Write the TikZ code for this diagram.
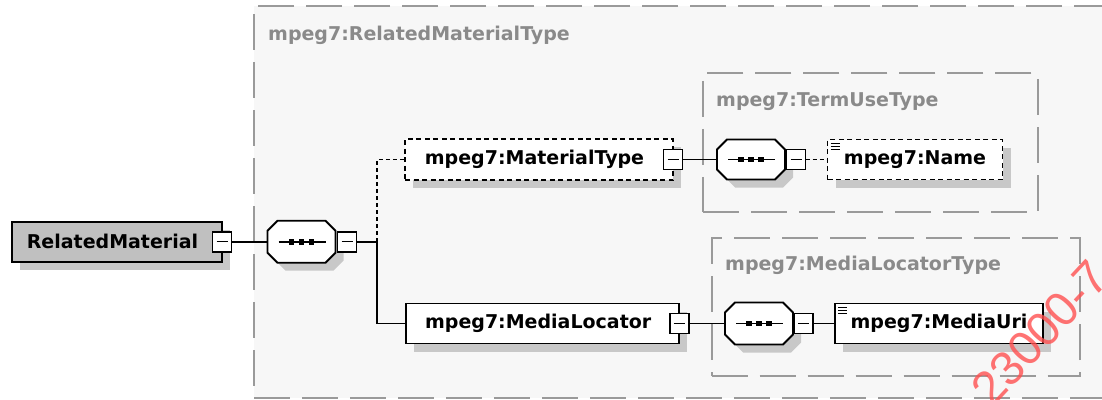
\documentclass[tikz,border=0pt]{standalone}
\usepackage{fontspec}
\setmainfont{DejaVu Sans}
\newfontfamily\wmfont{Liberation Sans}
\usetikzlibrary{shadows}
\definecolor{bgray}{HTML}{F7F7F7}
\definecolor{dgray}{HTML}{9A9A9A}
\definecolor{tgray}{HTML}{8A8A8A}
\definecolor{shgray}{HTML}{C8C8C8}
\definecolor{elgray}{HTML}{C0C0C0}
\definecolor{wmred}{HTML}{FF5050}
\newcommand\octpath[2]{\path[#2] ([xshift=10pt]#1.north west) -- ([xshift=-10pt]#1.north east) -- ([yshift=-10pt]#1.north east) -- ([yshift=10pt]#1.south east) -- ([xshift=-10pt]#1.south east) -- ([xshift=10pt]#1.south west) -- ([yshift=10pt]#1.south west) -- ([yshift=-10pt]#1.north west) -- cycle;}
\newcommand\seqshape[1]{%
  \octpath{#1}{fill=shgray, transform canvas={shift={(8pt,-8pt)}}}%
  \octpath{#1}{draw=black, line width=1.9pt, fill=white}%
  \draw[line width=1.6pt] ([xshift=-23pt]#1.center) -- ([xshift=24pt]#1.center);%
  \foreach \d in {-10,0,10} {\fill ([xshift=\d pt]#1.center) +(-2.8,-2.8) rectangle +(2.8,2.8);}%
}
\newcommand\texticon[1]{\foreach \k in {0,1,2} {\draw[line width=1pt] ([xshift=3pt,yshift={-(3.5+3*\k)*1pt}]#1.north west) -- ++(9,0);}}
\begin{document}
\begin{tikzpicture}[x=1pt,y=-1pt,
  lbl/.style={font=\fontsize{19}{19}\selectfont\bfseries},
  elembox/.style={draw=black, line width=1.9pt, fill=white, inner sep=0, outer sep=0, lbl,
    drop shadow={shadow xshift=8pt, shadow yshift=-8pt, fill=shgray, opacity=1}},
  optional/.style={dash pattern=on 5pt off 3.5pt},
  minusbox/.style={draw=black, line width=1.7pt, fill=white, minimum width=19pt, minimum height=20pt,
    inner sep=0, outer sep=0,
    path picture={\draw[line width=1.3pt] ([xshift=4pt]path picture bounding box.west) -- ([xshift=-4pt]path picture bounding box.east);}},
  grpbox/.style={draw=dgray, line width=1.8pt, dash pattern=on 36pt off 12pt, inner sep=0, outer sep=0, anchor=north west},
  grptitle/.style={lbl, text=tgray, anchor=west, inner sep=0},
  wire/.style={line width=1.6pt},
  optwire/.style={wire, dash pattern=on 4pt off 3pt},
  seqnode/.style={minimum width=68pt, minimum height=42pt, inner sep=0, outer sep=0}]
\useasboundingbox (0,0) rectangle (1102,399);
\fill[white] (0,0) rectangle (1102,399);
% group boxes
\node[grpbox, fill=bgray, minimum width=856pt, minimum height=392pt] (outer) at (254,6) {};
\node[grptitle] (t0) at (268,35) {mpeg7:RelatedMaterialType};
\node[grpbox, minimum width=335pt, minimum height=138.4pt] (g1) at (703,73.3) {};
\node[grptitle] (t1) at (716,101.7) {mpeg7:TermUseType};
\node[grpbox, minimum width=368.3pt, minimum height=137.4pt] (g2) at (711.7,238.3) {};
\node[grptitle] (t2) at (725,265) {mpeg7:MediaLocatorType};
% connectors
\coordinate (j) at (377,241.7);
\node[seqnode] (s1) at (301.5,241.7) {};
\node[seqnode, minimum height=40pt] (s2) at (751,159.5) {};
\node[seqnode] (s3) at (759,323.5) {};
% elements
\node[elembox, fill=elgray, minimum width=210pt, minimum height=40pt] (rm) at (117,241.7) {RelatedMaterial\kern9pt};
\node[minusbox] (m1) at (rm.east) {};
\seqshape{s1}
\node[minusbox] (m2) at (347,241.7) {};
\node[elembox, optional, minimum width=268pt, minimum height=41pt] (mt) at (539,159.5) {mpeg7:MaterialType\kern9pt};
\node[minusbox] (m3) at (mt.east) {};
\seqshape{s2}
\node[minusbox] (m4) at (796,159.5) {};
\node[elembox, optional, minimum width=175pt, minimum height=40pt] (nm) at (915,159.5) {mpeg7:Name};
\texticon{nm}
\node[elembox, minimum width=273pt, minimum height=40pt] (ml) at (542.7,323.5) {mpeg7:MediaLocator\kern9pt};
\node[minusbox] (m5) at (ml.east) {};
\seqshape{s3}
\node[minusbox] (m6) at (803.7,323.5) {};
\node[elembox, minimum width=208pt, minimum height=40pt] (mu) at (939,323.5) {mpeg7:MediaUri};
\texticon{mu}
\draw[wire] (m1.east) -- (s1.west);
\draw[wire] (m2.east) -- (j);
\draw[optwire] (j) |- (mt.west);
\draw[wire] (j) |- (ml.west);
\draw[wire] (m3.east) -- (s2.west);
\draw[optwire] (m4.east) -- (nm.west);
\draw[wire] (m5.east) -- (s3.west);
\draw[wire] (m6.east) -- (mu.west);
% watermark
\node[text=wmred, opacity=0.8, rotate=47, font=\wmfont\fontsize{48}{48}\selectfont] (wm) at (1040,333) {23000-7};
\end{tikzpicture}
\end{document}
